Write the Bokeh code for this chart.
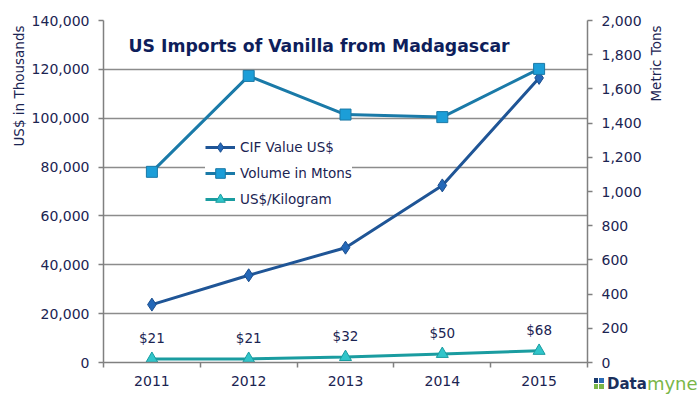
import math
from bokeh.plotting import figure
from bokeh.layouts import column
from bokeh.models import (Range1d, LinearAxis, FixedTicker, NumeralTickFormatter,
                          Label, Legend, LegendItem, Div, Title)
from bokeh.core.properties import value
from bokeh.embed import file_html
from bokeh.resources import INLINE

# ---------------- data ----------------
years = [2011, 2012, 2013, 2014, 2015]
year_labels = ["2011", "2012", "2013", "2014", "2015"]
cif_value_usd_thousands = [23700, 35700, 47000, 72500, 116500]
volume_mtons = [1115, 1676, 1450, 1435, 1717]
usd_per_kg = [21, 21, 32, 50, 68]
usd_per_kg_labels = ["$21", "$21", "$32", "$50", "$68"]
left_ticks = [0, 20000, 40000, 60000, 80000, 100000, 120000, 140000]
right_ticks = [0, 200, 400, 600, 800, 1000, 1200, 1400, 1600, 1800, 2000]
series_names = ["CIF Value US$", "Volume in Mtons", "US$/Kilogram"]
title_text = "US Imports of Vanilla from Madagascar"
left_axis_title = "US$ in Thousands"
right_axis_title = "Metric Tons"

# ---------------- style ----------------
FONT = "DejaVu Sans"
NAVY = "#1B2452"
AXIS_GRAY = "#808080"
GRID_GRAY = "#8C8C8C"
CIF_LINE, CIF_FILL, CIF_EDGE = "#1F5596", "#2468B8", "#1B4E8E"
VOL_LINE, VOL_FILL, VOL_EDGE = "#1A7AA8", "#1C9ED8", "#1A78A6"
KG_LINE, KG_FILL, KG_EDGE = "#1A9CA0", "#30C5CA", "#1A9CA0"

p = figure(width=700, height=399, output_backend="svg", toolbar_location=None,
           x_range=Range1d(2010.5, 2015.5), y_range=Range1d(0, 140000),
           min_border_left=103, min_border_right=113, min_border_top=20,
           min_border_bottom=37, outline_line_color=None,
           background_fill_color="white", border_fill_color="white")
p.extra_y_ranges = {"right": Range1d(0, 2000)}

# x axis
xa = p.xaxis[0]
xa.ticker = FixedTicker(ticks=years, minor_ticks=[2010.5, 2011.5, 2012.5, 2013.5, 2014.5, 2015.5])
xa.major_label_overrides = {y: s for y, s in zip(years, year_labels)}
xa.major_tick_line_color = None
xa.major_tick_out = 0
xa.major_tick_in = 0
xa.minor_tick_out = 5
xa.minor_tick_in = 0
xa.minor_tick_line_color = AXIS_GRAY
xa.minor_tick_line_width = 1.5
xa.axis_line_color = AXIS_GRAY
xa.axis_line_width = 1.5
xa.major_label_standoff = 8
xa.major_label_text_font = FONT
xa.major_label_text_font_size = "14px"
xa.major_label_text_color = NAVY

# left axis
ya = p.yaxis[0]
ya.ticker = FixedTicker(ticks=left_ticks)
ya.formatter = NumeralTickFormatter(format="0,0")
ya.major_tick_out = 5
ya.major_tick_in = 0
ya.minor_tick_line_color = None
ya.major_tick_line_color = AXIS_GRAY
ya.major_tick_line_width = 1.5
ya.axis_line_color = AXIS_GRAY
ya.axis_line_width = 1.5
ya.major_label_standoff = 9
ya.major_label_text_font = FONT
ya.major_label_text_font_size = "14px"
ya.major_label_text_color = NAVY

# left axis title, top-aligned (placed in the left side panel, outside the axis)
p.add_layout(Title(text=left_axis_title, align="right", offset=5, standoff=4,
                   vertical_align="bottom", text_font=FONT, text_font_style="normal",
                   text_font_size="13.5px", text_color=NAVY), "left")

# right axis
ra = LinearAxis(y_range_name="right", ticker=FixedTicker(ticks=right_ticks),
                formatter=NumeralTickFormatter(format="0,0"))
ra.major_tick_out = 5
ra.major_tick_in = 0
ra.minor_tick_line_color = None
ra.major_tick_line_color = AXIS_GRAY
ra.major_tick_line_width = 1.5
ra.axis_line_color = AXIS_GRAY
ra.axis_line_width = 1.5
ra.major_label_standoff = 9
ra.major_label_text_font = FONT
ra.major_label_text_font_size = "14px"
ra.major_label_text_color = NAVY
p.add_layout(ra, "right")

# grid
p.xgrid.visible = False
p.ygrid.ticker = FixedTicker(ticks=left_ticks)
p.ygrid.grid_line_color = GRID_GRAY
p.ygrid.grid_line_width = 1.5

# series
cif_line = p.line(years, cif_value_usd_thousands, line_color=CIF_LINE, line_width=3)
cif_pts = p.scatter(years, cif_value_usd_thousands, marker="diamond", size=13,
                    fill_color=CIF_FILL, line_color=CIF_EDGE, line_width=1)
vol_line = p.line(years, volume_mtons, y_range_name="right", line_color=VOL_LINE, line_width=3)
vol_pts = p.scatter(years, volume_mtons, y_range_name="right", marker="square", size=11,
                    fill_color=VOL_FILL, line_color=VOL_EDGE, line_width=1)
kg_line = p.line(years, usd_per_kg, y_range_name="right", line_color=KG_LINE, line_width=3)
kg_pts = p.scatter(years, usd_per_kg, y_range_name="right", marker="triangle", size=12,
                   fill_color=KG_FILL, line_color=KG_EDGE, line_width=1)

p.text(x=years, y=usd_per_kg, text=usd_per_kg_labels, y_range_name="right",
       y_offset=-21, text_align="center", text_baseline="middle",
       text_font=value(FONT), text_font_size="13.5px", text_color=NAVY)

legend = Legend(items=[
    LegendItem(label=series_names[0], renderers=[cif_line, cif_pts]),
    LegendItem(label=series_names[1], renderers=[vol_line, vol_pts]),
    LegendItem(label=series_names[2], renderers=[kg_line, kg_pts]),
], location=(102, 151), orientation="vertical")
legend.background_fill_color = "white"
legend.background_fill_alpha = 1.0
legend.border_line_color = None
legend.label_text_font = FONT
legend.label_text_font_size = "13.5px"
legend.label_text_color = NAVY
legend.glyph_width = 30
legend.glyph_height = 24
legend.label_height = 24
legend.label_standoff = 5
legend.spacing = 2
legend.padding = 5
legend.margin = 0
p.add_layout(legend)

# chart title inside the frame
p.add_layout(Label(x=25, y=317, x_units="screen", y_units="screen", text=title_text,
                   text_font=FONT, text_font_style="bold", text_font_size="17.3px",
                   text_color="#0E1E5B", text_align="left", text_baseline="alphabetic"))

# right axis title (reads bottom-to-top, top-aligned): HTML rotated with a CSS transform
metric_html = (
    '<div style="width:81px;height:16px;transform:rotate(-90deg);transform-origin:center;'
    "font-family:'DejaVu Sans';font-size:13.5px;line-height:16px;color:" + NAVY + ";"
    'white-space:nowrap;text-align:right;overflow:visible">' + right_axis_title + '</div>'
)
metric_div = Div(text=metric_html, width=81, height=16,
                 styles={"position": "relative", "z-index": "2"})
metric_div.margin = (58, 0, 0, 615)
p.margin = (-74, 0, 0, 0)

# logo (HTML) overlapping the bottom-right corner
logo_html = (
    "<div style=\"display:flex;align-items:center;font-family:'DejaVu Sans';"
    'line-height:20px;white-space:nowrap">'
    '<span style="display:inline-grid;grid-template-columns:4px 5px;'
    'grid-template-rows:5px 5px;gap:1px;margin-right:3px">'
    '<span style="background:#1B3A6E"></span><span style="background:#2A6CB8"></span>'
    '<span style="background:#7AB648"></span><span style="background:#7AB648"></span>'
    '</span>'
    '<span style="color:#1B2F5C;font-weight:bold;font-size:15px">Data</span>'
    '<span style="color:#7AB648;font-size:18px">myne</span></div>'
)
logo = Div(text=logo_html, width=106, height=22,
           styles={"position": "relative", "z-index": "2"})
logo.margin = (-28, 0, 0, 594)

layout = column(metric_div, p, logo, spacing=0)
open("out.html", "w").write(file_html(layout, INLINE))
